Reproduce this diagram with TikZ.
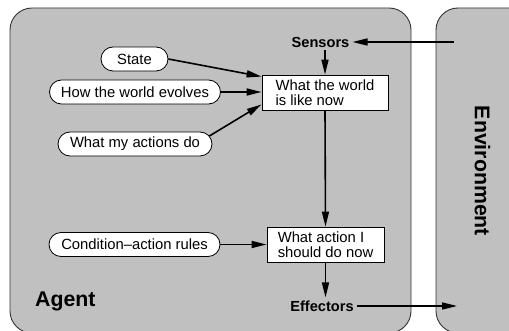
\documentclass[tikz,border=0pt]{standalone}
\usepackage{fontspec}
\setmainfont{Liberation Sans}
\usetikzlibrary{arrows.meta}
\definecolor{panel}{RGB}{192,192,192}
\begin{document}
\begin{tikzpicture}[x=1pt,y=-1pt,
  panelbox/.style={draw=black!80, line width=0.9pt, fill=panel, rounded corners=22pt},
  pill/.style={draw=black, line width=0.8pt, fill=white, rounded corners=12pt, minimum height=24pt, inner sep=0pt, font=\fontsize{14.8}{15}\selectfont},
  infobox/.style={draw=black, line width=0.8pt, fill=white, align=left, minimum height=35pt, inner sep=0pt, font=\fontsize{14.8}{15}\selectfont},
  tag/.style={font=\bfseries\fontsize{14.6}{15}\selectfont, inner sep=3pt},
  bigtag/.style={font=\bfseries\fontsize{21.3}{22}\selectfont, inner sep=0pt},
  arr/.style={line width=1.6pt, -{Triangle[length=15pt,width=7pt]}},
]
\useasboundingbox (0,0) rectangle (509,331);
\clip (0,0) rectangle (509,331);
\fill[white] (0,0) rectangle (509,331);
\draw[panelbox] (10,8) rectangle (411,333);
\draw[panelbox] (436,8) rectangle (570,333);

\node[pill, minimum width=67pt] (state) at (134.5,59) {State};
\node[pill, minimum width=171pt] (how) at (135,92) {How the world evolves};
\node[pill, minimum width=154pt] (whatdo) at (135,144) {What my actions do};
\node[pill, minimum width=171pt] (rules) at (134.5,244.5) {Condition--action rules};

\node[infobox, minimum width=126pt] (b1) at (325,92.5) {What the world\\is like now};
\node[infobox, minimum width=117pt] (b2) at (325.5,244.5) {What action I\\should do now};

\node[tag] (sensors) at (320.5,42) {Sensors};
\node[tag] (effectors) at (322,306) {Effectors};
\coordinate (envin) at (454,42);
\coordinate (envout) at (457,306);

\node[bigtag, anchor=base west] (agent) at (35,306.5) {Agent};
\node[bigtag, rotate=-90] (env) at (482.5,171) {Environment};

\draw[arr] (envin) -- (sensors.east);
\draw[arr] (sensors.south -| b1.north) -- (b1.north);
\draw[arr] (state.east) -- ([yshift=-2pt]b1.north west);
\draw[arr] (how.east) -- (how.east -| b1.west);
\draw[arr] ([xshift=-3pt,yshift=8pt]whatdo.east) -- ([yshift=6pt]b1.south west);
\draw[arr] (b1.south) -- (b2.north);
\draw[arr] (rules.east) -- (rules.east -| b2.west);
\draw[arr] (b2.south) -- (b2.south |- effectors.north);
\draw[arr] (effectors.east) -- (envout);
\end{tikzpicture}
\end{document}
